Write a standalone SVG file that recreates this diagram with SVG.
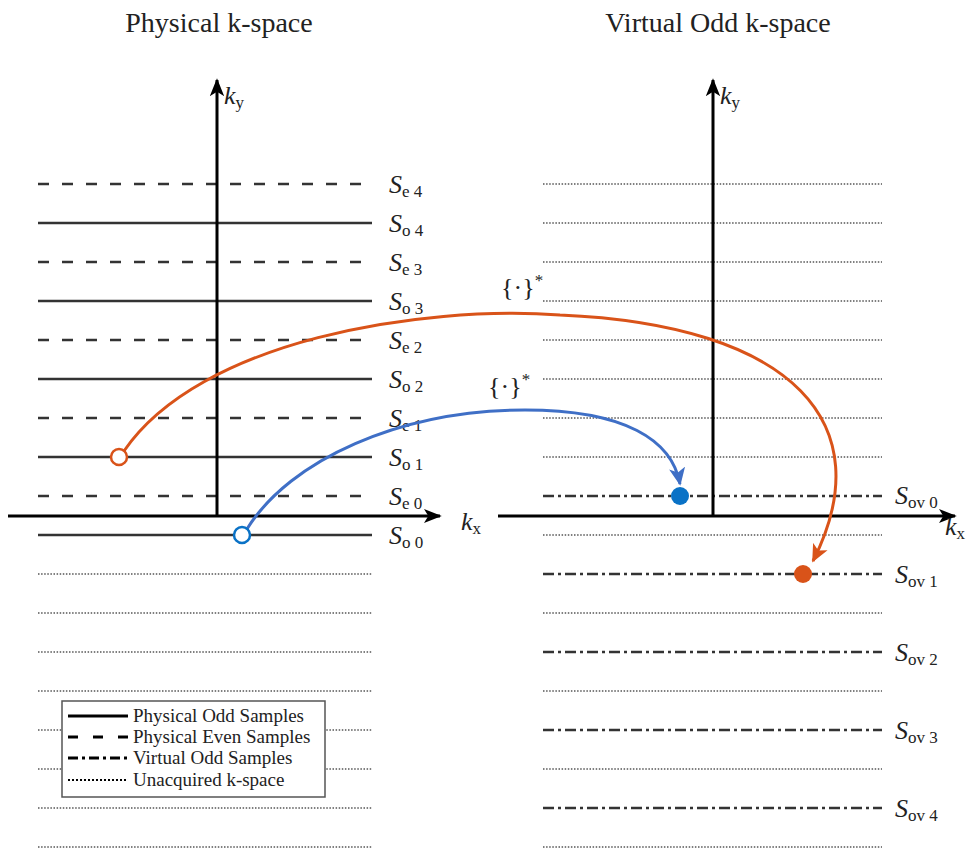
<svg xmlns="http://www.w3.org/2000/svg" width="971" height="850" viewBox="0 0 971 850">
<style>
text{font-family:"Liberation Serif","DejaVu Serif",serif;fill:#222}
.title{font-size:28px;text-anchor:middle}
.lab{font-size:26px;font-style:italic}
.sub{font-size:17px;font-style:normal}
.solid{stroke:#333;stroke-width:2.5;fill:none}
.dash{stroke:#333;stroke-width:2.5;stroke-dasharray:11 13;fill:none}
.dd{stroke:#333;stroke-width:2.5;stroke-dasharray:11 4 3 4;fill:none}
.dot{stroke:#555;stroke-width:1.5;stroke-dasharray:1.5 1.6;fill:none}
.axis{stroke:#000;stroke-width:3;fill:none}
.leg{font-size:19px}
</style>
<defs>
<marker id="ax" viewBox="0 0 10 10" refX="9" refY="5" markerWidth="6" markerHeight="6" markerUnits="strokeWidth" orient="auto"><path d="M0,1 L10,5 L0,9 L2.5,5 Z" fill="#000"/></marker>
<marker id="ao" viewBox="0 0 10 10" refX="9" refY="5" markerWidth="6" markerHeight="6" markerUnits="strokeWidth" orient="auto"><path d="M0,0.5 L10,5 L0,9.5 L2.5,5 Z" fill="#d95319"/></marker>
<marker id="ab" viewBox="0 0 10 10" refX="9" refY="5" markerWidth="6" markerHeight="6" markerUnits="strokeWidth" orient="auto"><path d="M0,0.5 L10,5 L0,9.5 L2.5,5 Z" fill="#3f6fc6"/></marker>
</defs>

<text class="title" x="219" y="32">Physical k-space</text>
<text class="title" x="718" y="32">Virtual Odd k-space</text>

<g id="left-panel">
<path class="dash" d="M38,184H372"/>
<path class="solid" d="M38,223H372"/>
<path class="dash" d="M38,262H372"/>
<path class="solid" d="M38,301H372"/>
<path class="dash" d="M38,340H372"/>
<path class="solid" d="M38,379H372"/>
<path class="dash" d="M38,418H372"/>
<path class="solid" d="M38,457H372"/>
<path class="dash" d="M38,496H372"/>
<path class="solid" d="M38,535H372"/>
<path class="dot" d="M38,574H372M38,613H372M38,652H372M38,691H372M38,730H372M38,769H372M38,808H372M38,847H372"/>
<path class="axis" d="M8,516H440" marker-end="url(#ax)"/>
<path class="axis" d="M217,516V80" marker-end="url(#ax)"/>
<text class="lab" x="461" y="530">k<tspan class="sub" font-style="italic" dy="4">x</tspan></text>
<text class="lab" x="224" y="104">k<tspan class="sub" font-style="italic" dy="4">y</tspan></text>
<text class="lab" x="389" y="193">S<tspan class="sub" dy="4">e 4</tspan></text>
<text class="lab" x="389" y="232">S<tspan class="sub" dy="4">o 4</tspan></text>
<text class="lab" x="389" y="271">S<tspan class="sub" dy="4">e 3</tspan></text>
<text class="lab" x="389" y="310">S<tspan class="sub" dy="4">o 3</tspan></text>
<text class="lab" x="389" y="349">S<tspan class="sub" dy="4">e 2</tspan></text>
<text class="lab" x="389" y="388">S<tspan class="sub" dy="4">o 2</tspan></text>
<text class="lab" x="389" y="427">S<tspan class="sub" dy="4">e 1</tspan></text>
<text class="lab" x="389" y="466">S<tspan class="sub" dy="4">o 1</tspan></text>
<text class="lab" x="389" y="505">S<tspan class="sub" dy="4">e 0</tspan></text>
<text class="lab" x="389" y="544">S<tspan class="sub" dy="4">o 0</tspan></text>
</g>

<g id="right-panel">
<path class="dot" d="M543,184H882M543,223H882M543,262H882M543,301H882M543,340H882M543,379H882M543,418H882M543,457H882M543,535H882M543,613H882M543,691H882M543,769H882M543,847H882"/>
<path class="dd" d="M543,496H882"/>
<path class="dd" d="M543,574H882"/>
<path class="dd" d="M543,652H882"/>
<path class="dd" d="M543,730H882"/>
<path class="dd" d="M543,808H882"/>
<path class="axis" d="M498,516H955" marker-end="url(#ax)"/>
<path class="axis" d="M713,516V80" marker-end="url(#ax)"/>
<text class="lab" x="945" y="535">k<tspan class="sub" font-style="italic" dy="4">x</tspan></text>
<text class="lab" x="720" y="104">k<tspan class="sub" font-style="italic" dy="4">y</tspan></text>
<text class="lab" x="895" y="504">S<tspan class="sub" dy="4">ov 0</tspan></text>
<text class="lab" x="895" y="583">S<tspan class="sub" dy="4">ov 1</tspan></text>
<text class="lab" x="895" y="661">S<tspan class="sub" dy="4">ov 2</tspan></text>
<text class="lab" x="895" y="739">S<tspan class="sub" dy="4">ov 3</tspan></text>
<text class="lab" x="895" y="817">S<tspan class="sub" dy="4">ov 4</tspan></text>
</g>

<g id="connectors">
<path d="M124,451 C200,340 420,305 560,315 C795,325 882,425 813,561" stroke="#d95319" stroke-width="3" fill="none" marker-end="url(#ao)"/>
<path d="M247,529 C290,460 400,410 525,410 C625,410 672,440 680,484" stroke="#3f6fc6" stroke-width="3" fill="none" marker-end="url(#ab)"/>
<text x="501" y="296" style="font-size:26px">{·}<tspan dy="-10" style="font-size:17px">*</tspan></text>
<text x="488" y="395" style="font-size:26px">{·}<tspan dy="-10" style="font-size:17px">*</tspan></text>
</g>

<g id="points">
<circle cx="119" cy="457" r="8" fill="#fff" stroke="#d95319" stroke-width="2.5"/>
<circle cx="242" cy="535" r="8" fill="#fff" stroke="#0a72c6" stroke-width="2.5"/>
<circle cx="680" cy="496" r="9" fill="#0a72c6"/>
<circle cx="803" cy="574" r="9" fill="#d95319"/>
</g>

<g id="legend">
<rect x="62" y="701" width="263" height="96" fill="#fff" stroke="#555" stroke-width="1.5"/>
<path d="M68,716H128" style="stroke:#000;stroke-width:3"/>
<path d="M68,737H128" style="stroke:#000;stroke-width:3;stroke-dasharray:10 15"/>
<path d="M68,758H128" style="stroke:#000;stroke-width:3;stroke-dasharray:10 4 3 4"/>
<path d="M68,780H128" style="stroke:#000;stroke-width:2;stroke-dasharray:2 2"/>
<text class="leg" x="133" y="722">Physical Odd Samples</text>
<text class="leg" x="133" y="743">Physical Even Samples</text>
<text class="leg" x="133" y="764">Virtual Odd Samples</text>
<text class="leg" x="133" y="786">Unacquired k-space</text>
</g>
</svg>
